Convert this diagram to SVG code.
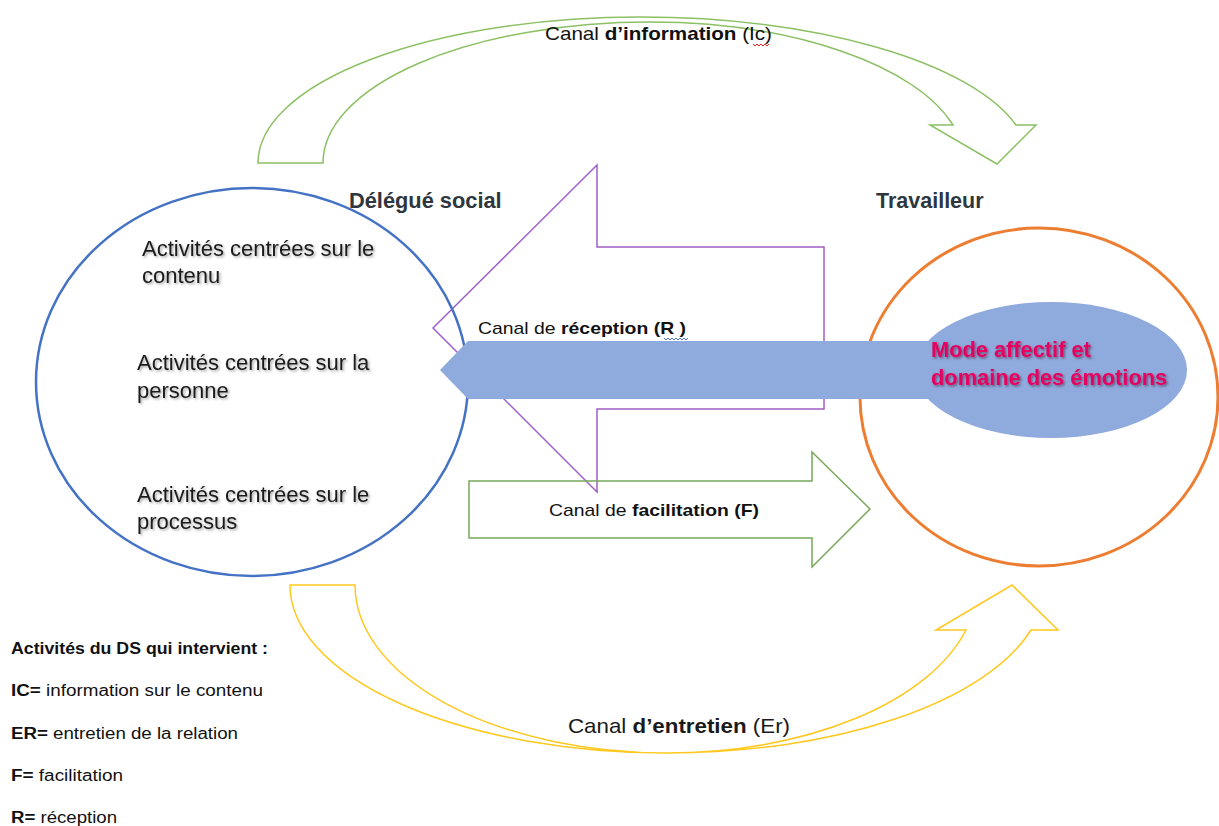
<svg xmlns="http://www.w3.org/2000/svg" width="1219" height="826" viewBox="0 0 1219 826">
<style>
.out{fill:none;stroke-width:1.5;stroke-linejoin:miter}
.green{stroke:#8cc064}
.green2{stroke:#77a85a}
.yellow{stroke:#ffc81e}
.purple{stroke:#9e5fc8}
.cal{font-family:"Liberation Sans",Arial,sans-serif;fill:#111}
.ar{font-family:"Liberation Sans",Arial,sans-serif;fill:#1a1a1a}
.b{font-weight:bold}
.sq{fill:none;stroke:#e02020;stroke-width:1}
.blue{fill:#8faadc}
</style>
<defs>
<filter id="sh" x="-5%" y="-20%" width="110%" height="150%">
<feDropShadow dx="1.5" dy="1.5" stdDeviation="0.8" flood-color="#000" flood-opacity="0.35"/>
</filter>
<filter id="sh2" x="-5%" y="-20%" width="110%" height="150%">
<feDropShadow dx="1.5" dy="1.5" stdDeviation="1" flood-color="#400020" flood-opacity="0.5"/>
</filter>
</defs>
<rect width="1219" height="826" fill="#fff"/>

<g id="connectors">
 <g id="canal-information">
  <path class="out green" d="M258,163 A382,146 0 0 1 640,17 A390,146 0 0 1 1016,125 L1036,125 L997,164 L930,125 L953,125 A315,141 0 0 0 650,22 A327,141 0 0 0 323,163 Z"/>
 </g>
 <g id="canal-entretien">
  <path class="out yellow" d="M290,585 A377,168 0 0 0 667,753 A378,168 0 0 0 1031,630 L1058,630 L1012,585 L936,630 L966,630 A310,168 0 0 1 667,753 A312,168 0 0 1 355,585 Z"/>
 </g>
 <g id="canal-reception">
  <polygon class="out purple" points="433,328 597,165 597,247 824,247 824,409 597,409 597,492"/>
 </g>
 <g id="canal-facilitation">
  <polygon class="out green2" points="469,481 812,481 812,452 870,509 812,567 812,538 469,538"/>
 </g>
</g>

<g id="delegue-social">
 <ellipse cx="252" cy="382" rx="216" ry="194" fill="none" stroke="#4472c4" stroke-width="2.5"/>
 <text class="ar b" x="349" y="208" font-size="21.8" style="fill:#2e3640">Délégué social</text>
 <g filter="url(#sh)">
  <text class="ar" x="142" y="256" font-size="22">Activités centrées sur le</text>
  <text class="ar" x="142" y="283" font-size="22">contenu</text>
  <text class="ar" x="137" y="370" font-size="22">Activités centrées sur la</text>
  <text class="ar" x="137" y="398" font-size="22">personne</text>
  <text class="ar" x="137" y="502" font-size="22">Activités centrées sur le</text>
  <text class="ar" x="137" y="529" font-size="22">processus</text>
 </g>
</g>

<g id="travailleur">
 <ellipse cx="1039" cy="397" rx="179" ry="169" fill="none" stroke="#ed7d31" stroke-width="3"/>
 <text class="ar b" x="876" y="208" font-size="21.5" style="fill:#2e3640">Travailleur</text>
</g>

<g id="mode-affectif">
 <path class="blue" d="M468,341 L940,341 L940,399 L468,399 L440,370 Z"/>
 <ellipse class="blue" cx="1051" cy="370" rx="136" ry="68"/>
 <g filter="url(#sh2)">
  <text class="ar b" x="931" y="357" font-size="21.8" style="fill:#e6005e">Mode affectif et</text>
  <text class="ar b" x="931" y="385" font-size="21.8" style="fill:#e6005e">domaine des émotions</text>
 </g>
</g>

<g id="labels">
 <text class="cal" x="545" y="40" font-size="19" textLength="227" lengthAdjust="spacingAndGlyphs">Canal <tspan class="b">d’information</tspan> (Ic)</text>
 <path class="sq" d="M753,44 l2,2 l2,-2 l2,2 l2,-2 l2,2 l2,-2 l2,2 l2,-2"/>
 <text class="cal" x="478" y="334" font-size="17" textLength="208" lengthAdjust="spacingAndGlyphs">Canal de <tspan class="b">réception (R )</tspan></text>
 <path class="sq" d="M664,338 l2,2 l2,-2 l2,2 l2,-2 l2,2 l2,-2 l2,2 l2,-2 l2,2 l2,-2 l2,2 l2,-2" style="stroke:#4a70c8"/>
 <text class="cal" x="549" y="516" font-size="17" textLength="210" lengthAdjust="spacingAndGlyphs">Canal de <tspan class="b">facilitation (F)</tspan></text>
 <text class="ar" x="568" y="733" font-size="21" textLength="222" lengthAdjust="spacingAndGlyphs">Canal <tspan class="b">d’entretien</tspan> (Er)</text>
</g>

<g id="legende">
 <text class="cal b" x="11" y="654" font-size="16" textLength="257" lengthAdjust="spacingAndGlyphs">Activités du DS qui intervient :</text>
 <text class="cal" x="11" y="696" font-size="16" textLength="252" lengthAdjust="spacingAndGlyphs"><tspan class="b">IC=</tspan> information sur le contenu</text>
 <text class="cal" x="11" y="739" font-size="16" textLength="227" lengthAdjust="spacingAndGlyphs"><tspan class="b">ER=</tspan> entretien de la relation</text>
 <text class="cal" x="11" y="781" font-size="16" textLength="112" lengthAdjust="spacingAndGlyphs"><tspan class="b">F=</tspan> facilitation</text>
 <text class="cal" x="11" y="823" font-size="16" textLength="106" lengthAdjust="spacingAndGlyphs"><tspan class="b">R=</tspan> réception</text>
</g>
</svg>
